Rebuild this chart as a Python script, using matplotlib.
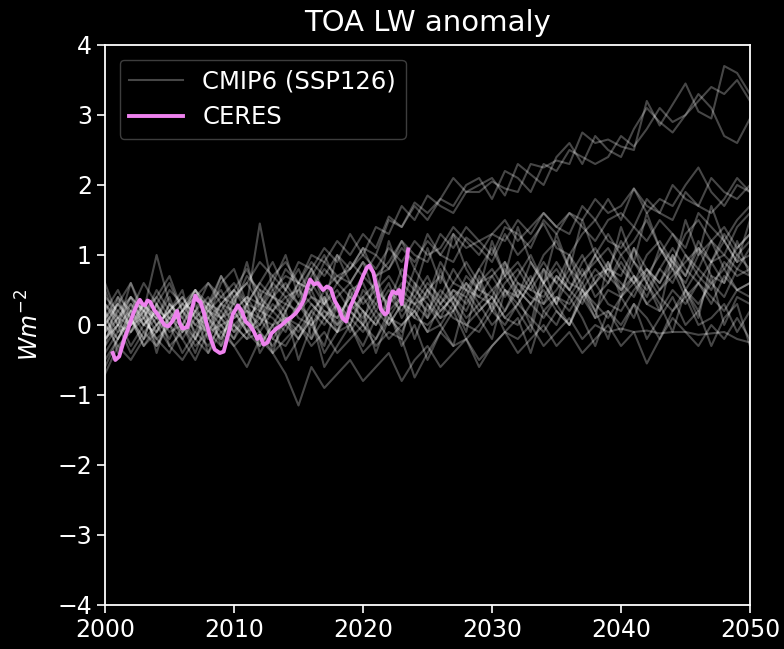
import numpy as np
import matplotlib
matplotlib.use("Agg")
import matplotlib.pyplot as plt

years = list(range(2000, 2051))

# CMIP6 (SSP126) model anomalies, annual, 2000-2050 (W m-2)
a1 = [0.1, 0.3, 0.0, 0.2, 0.4, 0.1, 0.3, 0.5, 0.2, 0.4,
      0.6, 0.3, 1.45, 0.5, 0.7, 0.6, 0.9, 0.7, 1.0, 0.8,
      1.1, 1.0, 1.5, 1.4, 1.75, 1.6, 1.8, 2.1, 1.9, 1.9,
      2.05, 1.95, 1.9, 2.3, 2.25, 2.35, 2.3, 2.75, 2.6, 2.65,
      2.55, 2.5, 3.2, 2.85, 3.15, 3.45, 3.05, 2.95, 3.7, 3.6, 3.3]
a2 = [0.2, -0.1, 0.3, 0.1, 0.5, 0.2, 0.0, 0.4, 0.6, 0.3,
      0.5, 0.8, 0.4, 0.7, 0.9, 0.6, 1.0, 0.9, 1.2, 1.0,
      1.3, 1.1, 1.55, 1.4, 1.7, 1.5, 1.8, 1.7, 2.0, 2.1,
      1.8, 2.2, 2.1, 1.9, 2.3, 2.2, 2.5, 2.4, 2.3, 2.4,
      2.7, 2.55, 2.8, 3.1, 2.9, 3.0, 3.3, 3.1, 2.7, 2.6, 2.95]
a3 = [-0.1, 0.2, 0.4, 0.0, 0.3, 0.6, 0.2, 0.4, 0.3, 0.7,
      0.4, 0.6, 0.9, 0.7, 0.5, 0.9, 0.8, 1.1, 0.9, 1.3,
      1.0, 1.4, 1.3, 1.7, 1.5, 1.85, 1.7, 1.6, 1.9, 2.0,
      2.1, 1.85, 2.3, 2.15, 2.0, 2.4, 2.6, 2.3, 2.7, 2.5,
      2.4, 2.8, 3.1, 2.9, 2.75, 3.0, 3.2, 3.4, 3.3, 3.5, 3.2]
b1 = [0.0, -0.2, 0.2, 0.3, 0.0, 0.2, 0.4, 0.1, 0.3, 0.2,
      0.5, 0.3, 0.6, 0.4, 0.3, 0.6, 0.5, 0.8, 0.6, 0.9,
      0.7, 1.0, 0.8, 1.2, 1.0, 0.9, 1.3, 1.1, 1.4, 1.2,
      1.3, 1.5, 1.2, 1.4, 1.6, 1.4, 1.6, 1.5, 1.8, 1.6,
      1.7, 1.95, 1.6, 1.8, 1.7, 2.0, 2.25, 1.9, 1.7, 2.0, 1.9]
b2 = [0.3, 0.1, 0.4, 0.2, 0.1, 0.5, 0.3, 0.2, 0.6, 0.4,
      0.3, 0.7, 0.5, 0.4, 0.8, 0.6, 0.5, 0.9, 0.7, 0.8,
      1.0, 0.8, 1.1, 0.9, 1.2, 1.0, 1.1, 1.4, 1.2, 1.0,
      1.3, 1.2, 1.5, 1.3, 1.6, 1.4, 1.3, 1.7, 1.5, 1.8,
      1.5, 1.95, 1.7, 1.6, 2.0, 1.8, 1.7, 2.1, 1.9, 1.8, 2.0]
b3 = [-0.2, 0.1, 0.0, 0.3, 0.1, 0.0, 0.2, 0.4, 0.1, 0.3,
      0.2, 0.4, 0.3, 0.6, 0.4, 0.5, 0.8, 0.5, 0.7, 0.6,
      0.9, 0.7, 0.8, 1.1, 0.9, 1.2, 1.0, 1.3, 1.1, 1.2,
      1.0, 1.4, 1.3, 1.1, 1.5, 1.3, 1.6, 1.4, 1.2, 1.5,
      1.6, 1.4, 1.8, 1.6, 1.5, 1.9, 1.7, 1.6, 1.8, 2.1, 1.9]
c1 = [0.1, -0.2, 0.2, 0.0, -0.1, 0.3, 0.1, -0.2, 0.2, 0.0,
      0.1, 0.3, -0.1, 0.2, 0.4, 0.1, 0.0, 0.3, 0.5, 0.2,
      0.4, 0.1, 0.3, 0.6, 0.4, 0.2, 0.5, 0.3, 0.7, 0.5,
      0.4, 0.8, 0.5, 0.3, 0.6, 0.9, 0.6, 0.5, 0.8, 0.6,
      1.0, 0.7, 0.5, 0.8, 1.1, 0.8, 0.6, 0.9, 1.2, 0.9, 1.0]
c2 = [-0.3, 0.0, 0.2, -0.1, 0.1, -0.2, 0.2, 0.0, -0.1, 0.3,
      0.0, -0.2, 0.2, 0.1, -0.1, 0.3, 0.0, 0.2, 0.1, 0.4,
      0.2, 0.0, 0.4, 0.2, 0.5, 0.3, 0.1, 0.5, 0.3, 0.6,
      0.2, 0.5, 0.4, 0.7, 0.3, 0.5, 0.8, 0.4, 0.6, 0.9,
      0.5, 0.7, 0.4, 0.8, 0.6, 1.0, 0.7, 0.5, 0.9, 0.7, 0.8]
c3 = [0.4, 0.2, 0.0, 0.3, 0.1, 0.4, -0.1, 0.2, 0.4, 0.1,
      0.3, 0.0, 0.4, 0.2, 0.0, 0.3, 0.5, 0.1, 0.3, 0.0,
      0.4, 0.6, 0.2, 0.4, 0.1, 0.5, 0.7, 0.4, 0.2, 0.6,
      0.8, 0.5, 0.3, 0.6, 0.9, 0.6, 0.4, 0.7, 1.0, 0.7,
      0.5, 0.9, 0.6, 1.1, 0.8, 0.6, 1.0, 1.2, 0.8, 1.1, 1.3]
c4 = [-0.5, -0.2, 0.1, -0.3, 0.0, 0.2, -0.2, 0.1, -0.1, 0.2,
      -0.1, 0.1, 0.3, -0.2, 0.1, 0.0, 0.3, 0.1, -0.1, 0.3,
      0.1, 0.4, 0.0, 0.3, 0.2, 0.5, 0.2, 0.4, 0.6, 0.3,
      0.5, 0.2, 0.6, 0.4, 0.3, 0.7, 0.5, 0.8, 0.4, 0.6,
      0.9, 0.6, 0.8, 0.5, 0.7, 0.9, 1.1, 0.7, 0.6, 1.0, 0.8]
c5 = [0.2, 0.5, 0.1, 0.3, 0.0, 0.2, 0.4, 0.1, 0.0, 0.3,
      0.5, 0.2, 0.1, 0.4, 0.2, 0.5, 0.3, 0.1, 0.4, 0.6,
      0.3, 0.5, 0.7, 0.4, 0.3, 0.6, 0.4, 0.8, 0.5, 0.4,
      0.7, 0.9, 0.6, 0.5, 0.8, 0.6, 1.0, 0.7, 0.9, 1.1,
      0.8, 0.6, 1.0, 1.2, 0.9, 0.7, 1.1, 0.9, 1.3, 1.0, 1.2]
c6 = [-0.1, 0.1, -0.3, 0.0, 0.2, -0.1, 0.0, 0.3, -0.2, 0.1,
      0.2, -0.1, 0.0, 0.3, 0.1, -0.2, 0.2, 0.4, 0.0, 0.2,
      0.0, 0.3, 0.1, -0.1, 0.3, 0.4, 0.1, 0.2, 0.5, 0.2,
      0.4, 0.1, 0.3, 0.6, 0.2, 0.4, 0.3, 0.6, 0.2, 0.5,
      0.4, 0.7, 0.3, 0.5, 0.8, 0.4, 0.6, 0.3, 0.7, 0.5, 0.6]
c7 = [0.0, 0.3, 0.1, -0.2, 0.3, 0.0, 0.2, -0.1, 0.3, 0.5,
      0.1, 0.2, 0.0, 0.4, 0.6, 0.3, 0.1, 0.5, 0.2, 0.0,
      0.5, 0.3, 0.6, 0.1, 0.4, 0.7, 0.3, 0.5, 0.4, 0.8,
      0.5, 0.7, 0.4, 0.9, 0.6, 0.3, 0.7, 1.0, 0.6, 0.8,
      0.7, 1.1, 0.8, 0.6, 1.0, 0.7, 1.2, 0.9, 1.0, 0.8, 1.1]
c8 = [0.6, 0.1, 0.3, 0.0, 0.2, 0.1, -0.1, 0.2, 0.0, -0.2,
      0.2, 0.4, 0.1, 0.0, 0.3, 0.2, 0.6, 0.3, 0.1, 0.4,
      0.2, 0.0, 0.3, 0.5, 0.3, 0.1, 0.4, 0.2, 0.6, 0.4,
      0.3, 0.6, 0.8, 0.5, 0.4, 0.7, 0.5, 0.3, 0.7, 0.8,
      0.6, 0.4, 0.8, 0.6, 0.9, 0.5, 0.8, 0.6, 0.4, 0.8, 0.7]
c9 = [-0.2, 0.0, -0.1, 0.2, -0.3, 0.1, 0.0, -0.2, 0.1, -0.1,
      0.0, 0.2, -0.3, 0.0, 0.1, -0.1, 0.2, 0.0, 0.3, 0.1,
      -0.1, 0.2, 0.0, 0.3, 0.1, 0.0, 0.2, 0.4, 0.1, 0.3,
      0.0, 0.2, 0.5, 0.3, 0.1, 0.4, 0.2, 0.5, 0.3, 0.1,
      0.4, 0.6, 0.3, 0.2, 0.5, 0.3, 0.6, 0.4, 0.2, 0.5, 0.4]
c10 = [0.3, 0.0, 0.4, 0.2, -0.1, 0.1, 0.3, 0.0, 0.2, 0.1,
       -0.1, 0.3, 0.2, 0.5, 0.0, 0.2, 0.4, 0.2, 0.0, 0.5,
       0.6, 0.2, 0.5, 0.3, 0.8, 0.5, 0.3, 0.6, 0.9, 0.6,
       0.7, 0.4, 0.7, 1.0, 0.6, 0.8, 0.5, 0.9, 1.1, 0.8,
       1.2, 0.9, 0.7, 1.0, 1.3, 1.0, 0.8, 1.2, 1.4, 1.1, 1.3]
c11 = [-0.4, -0.1, 0.0, 0.1, -0.2, -0.4, 0.0, -0.3, -0.1, 0.0,
       -0.3, -0.1, 0.1, -0.2, -0.3, 0.0, -0.2, 0.1, -0.1, 0.2,
       0.0, -0.2, 0.1, 0.0, 0.2, -0.1, 0.3, 0.1, 0.0, 0.2,
       0.4, 0.1, 0.0, 0.3, 0.5, 0.2, 0.0, 0.4, 0.6, 0.3,
       0.2, 0.5, 0.7, 0.4, 0.2, 0.5, 0.3, 0.6, 0.8, 0.5, 0.6]
c12 = [0.1, 0.4, 0.2, 0.6, 0.3, 0.0, 0.2, 0.5, 0.3, 0.1,
       0.4, 0.6, 0.3, 0.2, 0.5, 0.8, 0.4, 0.3, 0.6, 0.4,
       0.7, 0.5, 0.3, 0.8, 0.6, 0.4, 0.9, 0.6, 0.5, 0.8,
       1.1, 0.7, 0.9, 0.6, 1.0, 1.2, 0.8, 0.6, 1.0, 1.3,
       1.0, 1.2, 1.5, 1.1, 0.9, 1.3, 1.5, 1.2, 1.0, 1.4, 1.6]
d1 = [-0.7, -0.3, -0.5, -0.2, 0.0, -0.3, -0.5, -0.2, -0.4, -0.1,
      -0.3, -0.6, -0.2, -0.4, -0.7, -1.15, -0.6, -0.9, -0.7, -0.5,
      -0.8, -0.6, -0.4, -0.8, -0.5, -0.3, -0.6, -0.4, -0.2, -0.5,
      -0.3, -0.1, -0.4, -0.2, 0.0, -0.3, -0.1, -0.4, -0.2, 0.0,
      -0.3, -0.1, -0.55, -0.2, 0.1, -0.1, -0.3, 0.0, -0.2, 0.1, -0.2]
d2 = [-0.2, 0.0, -0.4, -0.1, -0.3, 0.0, -0.2, -0.5, -0.1, -0.3,
      0.0, -0.2, -0.1, -0.4, -0.2, 0.0, -0.3, -0.1, -0.4, -0.2,
      0.0, -0.3, -0.1, -0.2, -0.75, -0.4, -0.1, -0.3, -0.2, -0.6,
      -0.3, -0.1, -0.2, 0.0, -0.3, -0.1, 0.1, -0.2, 0.0, -0.1,
      -0.05, -0.1, -0.08, -0.12, -0.1, -0.1, -0.14, -0.12, -0.1, -0.2, -0.25]
d3 = [0.0, -0.3, -0.1, 0.1, -0.2, 0.0, -0.4, -0.1, -0.3, 0.0,
      -0.2, 0.1, -0.1, -0.3, 0.0, -0.2, 0.1, -0.4, -0.1, 0.0,
      -0.3, 0.1, -0.2, 0.0, 0.2, -0.1, 0.0, 0.3, 0.0, -0.1,
      0.2, 0.0, 0.3, 0.1, -0.1, 0.2, 0.0, 0.4, 0.1, 0.2,
      -0.1, 0.3, 0.1, -0.2, 0.2, 0.4, 0.0, 0.1, 0.3, -0.1, 0.2]
e1 = [0.5, 0.0, 0.6, 0.2, 1.0, 0.3, 0.1, 0.5, 0.2, 0.7,
      0.3, 0.9, 0.2, 0.6, 1.0, 0.4, 0.8, 0.3, 1.0, 0.6,
      0.9, 0.4, 1.2, 0.7, 0.5, 1.1, 0.6, 1.3, 0.8, 0.5,
      1.2, 0.7, 1.4, 0.9, 0.6, 1.3, 0.8, 1.5, 1.0, 0.7,
      1.4, 0.9, 1.6, 1.1, 0.8, 1.5, 1.0, 1.7, 1.2, 0.9, 1.5]
e2 = [-0.3, 0.4, -0.1, 0.3, -0.4, 0.2, 0.5, -0.2, 0.3, -0.3,
      0.4, -0.1, 0.5, -0.4, 0.2, 0.6, -0.2, 0.4, -0.1, 0.5,
      0.0, 0.7, 0.2, -0.2, 0.6, 0.1, 0.8, 0.3, -0.1, 0.7,
      0.2, 0.9, 0.4, 0.0, 0.8, 0.3, 1.0, 0.5, 0.1, 0.9,
      0.4, 1.1, 0.6, 0.2, 1.0, 0.5, 0.1, 0.9, 0.6, 1.2, 0.7]
e3 = [0.2, -0.4, 0.1, -0.2, 0.3, -0.3, -0.1, 0.2, -0.4, 0.1,
      -0.2, 0.3, -0.4, -0.1, 0.2, -0.5, 0.0, -0.3, 0.3, -0.1,
      0.2, -0.4, 0.1, 0.4, -0.2, 0.3, 0.0, -0.3, 0.4, 0.1,
      -0.2, 0.5, 0.2, -0.1, 0.6, 0.3, 0.0, 0.5, 0.2, -0.2,
      0.4, 0.1, 0.6, 0.3, -0.1, 0.5, 0.2, 0.7, 0.0, 0.4, 0.3]
e4 = [0.0, 0.3, 0.6, 0.1, 0.4, 0.7, 0.2, 0.5, 0.1, 0.6,
      0.8, 0.3, 0.6, 0.9, 0.5, 0.3, 0.7, 1.0, 0.6, 0.8,
      1.1, 0.7, 0.9, 1.2, 0.8, 1.3, 1.0, 0.9, 1.25, 1.1,
      0.9, 1.3, 1.0, 1.2, 1.45, 1.1, 1.0, 1.3, 1.5, 1.2,
      1.1, 1.4, 1.2, 1.5, 1.3, 1.1, 1.6, 1.4, 1.2, 1.5, 1.7]
e5 = [-0.6, -0.2, 0.1, -0.3, -0.1, 0.3, 0.0, -0.4, 0.1, -0.2,
      0.2, -0.1, -0.3, 0.0, -0.5, -0.2, 0.1, -0.6, -0.3, 0.0,
      -0.4, -0.2, 0.2, -0.3, 0.0, -0.5, -0.1, 0.2, -0.2, 0.0,
      0.3, -0.1, 0.1, -0.4, 0.2, 0.0, 0.4, 0.1, -0.3, 0.2,
      0.0, 0.3, -0.2, 0.1, 0.4, 0.0, 0.2, -0.3, 0.1, 0.3, -0.3]

models = [a1, a2, a3, b1, b2, b3, c1, c2, c3, c4, c5, c6, c7, c8,
          c9, c10, c11, c12, d1, d2, d3, e1, e2, e3, e4, e5]

# CERES observed anomaly (smoothed), W m-2
ceres_year = [2000.6, 2000.8, 2001.1, 2001.5, 2001.9, 2002.2, 2002.5, 2002.7,
              2002.9, 2003.1, 2003.3, 2003.5, 2003.8, 2004.2, 2004.6, 2004.9,
              2005.2, 2005.6, 2005.8, 2006.0, 2006.4, 2006.7, 2007.0, 2007.2,
              2007.4, 2007.7, 2007.9, 2008.2, 2008.5, 2008.9, 2009.2, 2009.6,
              2009.9, 2010.3, 2010.6, 2010.9, 2011.2, 2011.5, 2011.8, 2012.0,
              2012.3, 2012.6, 2012.9, 2013.3, 2013.7, 2014.1, 2014.5, 2014.8,
              2015.1, 2015.4, 2015.7, 2015.9, 2016.2, 2016.5, 2016.9, 2017.2,
              2017.5, 2017.8, 2018.1, 2018.4, 2018.7, 2019.0, 2019.3, 2019.7,
              2020.0, 2020.3, 2020.5, 2020.8, 2021.1, 2021.4, 2021.7, 2021.9,
              2022.1, 2022.3, 2022.6, 2022.8, 2023.0, 2023.15, 2023.3, 2023.5]
ceres_val = [-0.4, -0.5, -0.45, -0.2, 0.0, 0.17, 0.3, 0.36,
             0.3, 0.28, 0.35, 0.33, 0.22, 0.12, 0.0, -0.02,
             0.05, 0.2, 0.02, -0.05, -0.03, 0.2, 0.42, 0.35,
             0.33, 0.15, 0.0, -0.2, -0.35, -0.4, -0.38, -0.1,
             0.15, 0.28, 0.2, 0.05, 0.0, -0.08, -0.2, -0.15,
             -0.28, -0.25, -0.12, -0.05, 0.0, 0.07, 0.12, 0.17,
             0.25, 0.35, 0.55, 0.65, 0.58, 0.6, 0.5, 0.55,
             0.52, 0.35, 0.25, 0.1, 0.05, 0.25, 0.38, 0.55,
             0.7, 0.82, 0.85, 0.75, 0.5, 0.22, 0.15, 0.18,
             0.4, 0.48, 0.45, 0.5, 0.3, 0.55, 0.8, 1.08]

xticks = [2000, 2010, 2020, 2030, 2040, 2050]
yticks = [-4, -3, -2, -1, 0, 1, 2, 3, 4]

plt.style.use("dark_background")
fig = plt.figure(figsize=(7.84, 6.49), dpi=100)
ax = fig.add_axes([105 / 784, 44 / 649, 645 / 784, 560 / 649])
ax.set_facecolor("black")

for i, m in enumerate(models):
    ax.plot(years, m, color="white", alpha=0.28, lw=1.5,
            label="CMIP6 (SSP126)" if i == 0 else None)
ax.plot(ceres_year, ceres_val, color="violet", lw=2.8, label="CERES")

ax.set_xlim(2000, 2050)
ax.set_ylim(-4, 4)
ax.set_xticks(xticks)
ax.set_yticks(yticks)
ax.tick_params(labelsize=17, length=6, width=1.2, colors="white")
for s in ax.spines.values():
    s.set_color("white")
    s.set_linewidth(1.3)
ax.set_ylabel("$Wm^{-2}$", fontsize=17, color="white", labelpad=10)
ax.set_title("TOA LW anomaly", fontsize=21, color="white", pad=10)

leg = ax.legend(loc="upper left", fontsize=17.5, frameon=True,
                facecolor="black", edgecolor="0.3", framealpha=0.8,
                handlelength=2.2, borderaxespad=0.6)

fig.savefig("out.png", dpi=100, facecolor="black")
